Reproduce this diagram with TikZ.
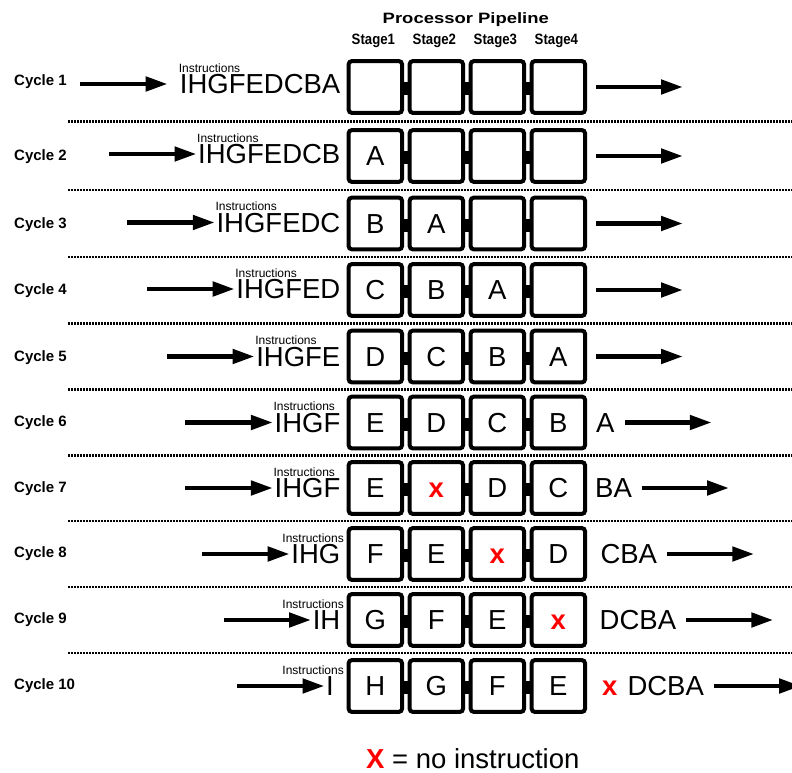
\documentclass[tikz,border=0pt]{standalone}
\usepackage{fontspec}
\setmainfont{Liberation Sans}
\usetikzlibrary{arrows.meta,calc}
\definecolor{nored}{RGB}{255,0,0}
\newcommand{\pipebig}{\fontsize{27.5}{30}\selectfont}
\newcommand{\pipelab}{\fontsize{15}{18}\selectfont\bfseries}
\newcommand{\noinstr}{\textcolor{nored}{\bfseries x}}
\tikzset{
  stagebox/.style={draw, line width=4pt, rounded corners=3pt,
    minimum width=53.3pt, minimum height=51.7pt, inner sep=0pt,
    text height=19.7pt, text depth=0pt, font=\pipebig},
  bigtext/.style={inner sep=0pt, text height=19.7pt, text depth=0pt, font=\pipebig},
  cyclelabel/.style={inner sep=0pt, anchor=west, text height=10.7pt,
    text depth=0pt, font=\pipelab},
  smalllabel/.style={inner sep=0pt, font=\fontsize{12}{14}\selectfont},
  headlabel/.style={inner sep=0pt, anchor=base, font=\pipelab},
  flow/.style={line width=4.7pt, -{Triangle[length=22pt,width=14pt]}},
  rowsep/.style={line width=2.5pt, dash pattern=on 2pt off 1pt},
}
\begin{document}
\begin{tikzpicture}[x=1pt,y=-1pt]
\clip (0,0) rectangle (792,773);

% heading
\node[headlabel] (title) at (465.8,23.3) {\scalebox{1.23}[1]{Processor Pipeline}};
\foreach \s in {1,2,3,4}
  \node[headlabel] (st\s) at ({373.35+61*(\s-1)},44.3) {\scalebox{0.88}[1]{Stage\s}};

% separators between cycles
\foreach \ym in {121.5,189.75,256.75,323.25,389.5,455.25,521,587,653}
  \draw[rowsep] (68.3,\ym) -- (792,\ym);

% one row per clock cycle
\foreach \r/\cy/\qy/\ly/\q/\g/\stA/\stB/\stC/\stD in {
  1/87/84/80/IHGFEDCBA/12/{}/{}/{}/{},
  2/156/154/155/IHGFEDCB/1.5/A/{}/{}/{},
  3/223.5/222.5/223/IHGFEDC/1.5/B/A/{}/{},
  4/290/289/289/IHGFED/1.5/C/B/A/{},
  5/356.5/356.5/356/IHGFE/1.5/D/C/B/A,
  6/422.5/422.5/421/IHGF/1.5/E/D/C/B,
  7/488/488/487/IHGF/1.5/E/\noinstr/D/C,
  8/554/554/552/IHG/1.5/F/E/\noinstr/D,
  9/620/620/618/IH/1.5/G/F/E/\noinstr,
  10/686/686/684/I/1.5/H/G/F/E}{
  \node[cyclelabel] (c\r) at (14,\ly) {Cycle \r};
  % pipeline stages
  \node[stagebox] (b\r-1) at (375.35,\cy) {\stA};
  \node[stagebox] (b\r-2) at (436.35,\cy) {\stB};
  \node[stagebox] (b\r-3) at (497.35,\cy) {\stC};
  \node[stagebox] (b\r-4) at (558.35,\cy) {\stD};
  \foreach \u/\v in {1/2,2/3,3/4}
    \fill ($(b\r-\u.east)+(0,-5)$) rectangle ($(b\r-\v.west)+(0,8)$);
  % waiting instructions
  \ifnum\r<10
    \node[bigtext, anchor=east] (q\r) at (340.5,\qy) {\q};
  \else
    \node[bigtext, anchor=west] (q\r) at (326,\qy) {\q};
  \fi
  \ifnum\r<8
    \node[smalllabel, anchor=base west] (i\r) at ([xshift=-1pt,yshift=1.5pt]q\r.north west) {Instructions};
  \else
    \node[smalllabel, anchor=base east] (i\r) at (344,{\qy-11.3}) {Instructions};
  \fi
  \coordinate (s\r) at ($(q\r.west)+({-\g-87.5},0)$);
  \draw[flow] (s\r) -- ([xshift=-\g pt]q\r.west);
}

% retired instructions
\foreach \r in {1,2,3,4,5}
  \draw[flow] ([xshift=9pt]b\r-4.east) -- ++(87,0) coordinate (e\r);
\node[bigtext, anchor=west] (o6) at (596,422.5) {A};
\node[bigtext, anchor=west] (o7) at (595,488) {BA};
\node[bigtext, anchor=west] (o8) at (600.3,554) {CBA};
\node[bigtext, anchor=west] (o9) at (599.5,620) {DCBA};
\node[bigtext, anchor=west] (x10) at (602,686) {\noinstr};
\node[bigtext, anchor=west] (o10) at (627.3,686) {DCBA};
\foreach \r in {6,7,8,9,10}
  \draw[flow] ([xshift=10pt]o\r.east) -- ++(87,0) coordinate (e\r);

% legend
\node[anchor=base west, inner sep=0pt, font=\pipebig] (legend) at (366,768)
  {\textcolor{nored}{\bfseries X} = no instruction};
\end{tikzpicture}
\end{document}
